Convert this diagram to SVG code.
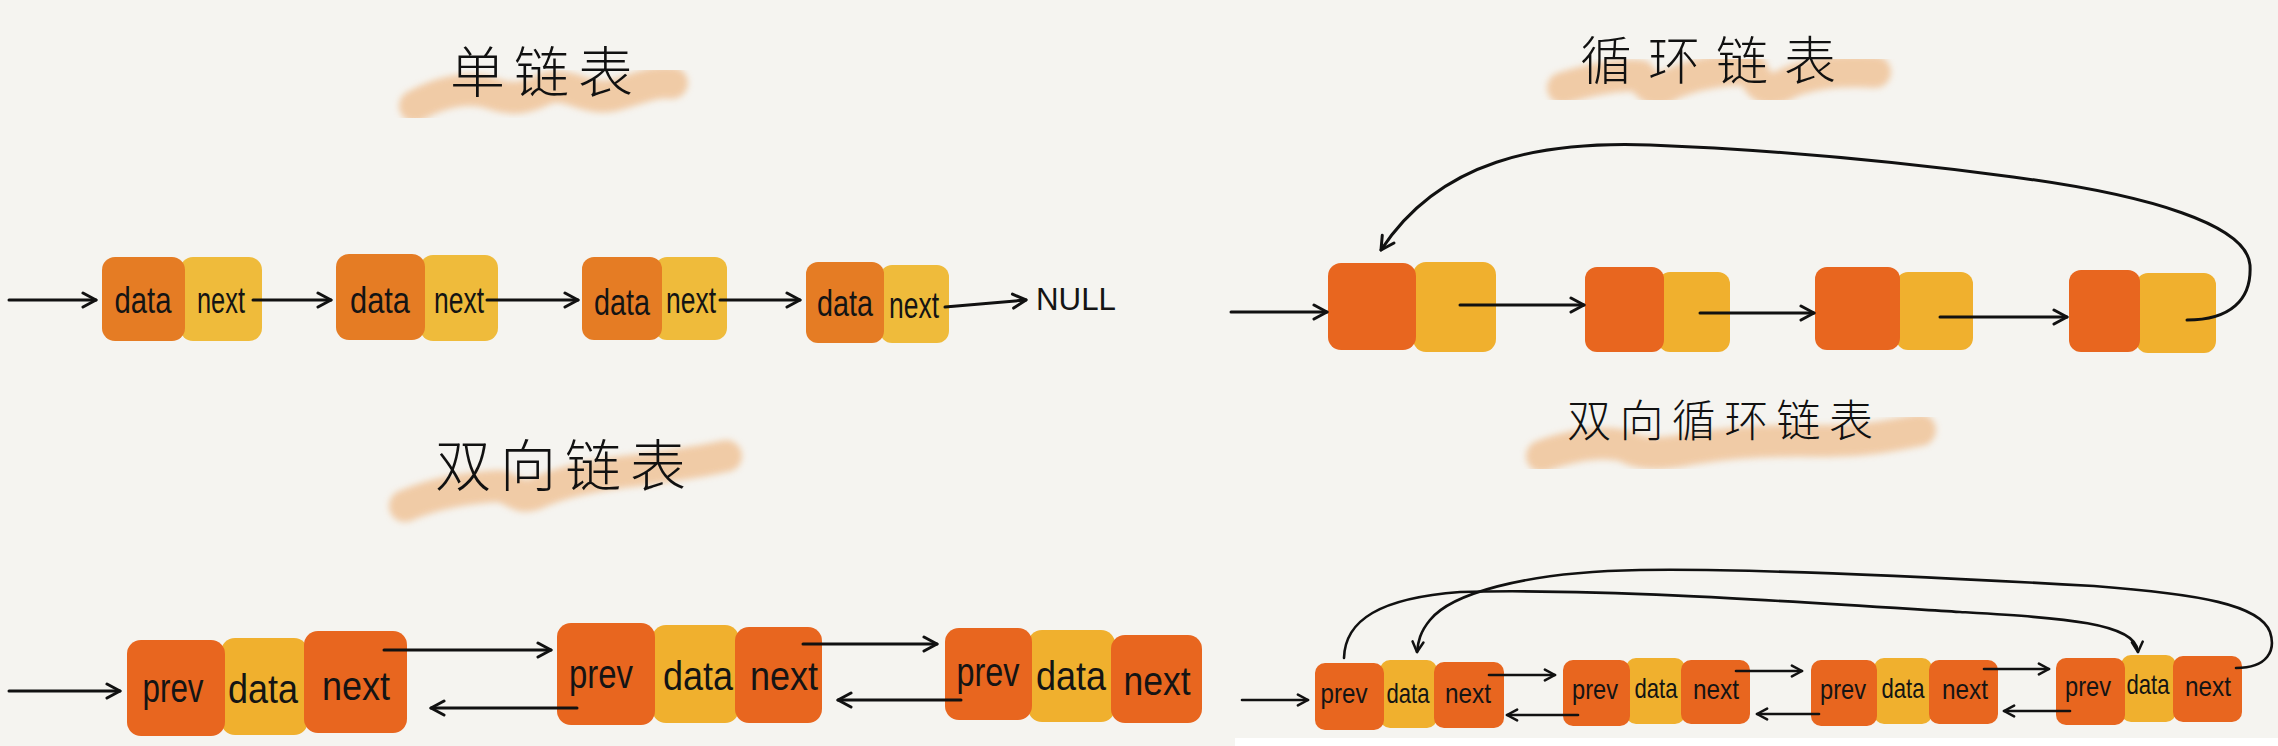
<svg xmlns="http://www.w3.org/2000/svg" width="2278" height="746" viewBox="0 0 2278 746">
<style>
.bg{fill:#f5f4f0}
.o1{fill:#e57c24}
.y1{fill:#efbb3b}
.o2{fill:#e8661f}
.y2{fill:#f0b02e}
.t{font-family:"Liberation Sans",Arial,sans-serif;fill:#141414;text-anchor:middle}
.s1{font-size:36px}
.s2{font-size:40px}
.s3{font-size:28px}
.ttl{font-family:"Noto Sans CJK SC","Noto Sans",sans-serif;fill:#111;font-weight:300}
.brush{fill:none;stroke:#f0c49a;stroke-linecap:round;stroke-linejoin:round;opacity:0.85;filter:url(#blur)}
.ln{fill:none;stroke:#111;stroke-width:3;stroke-linecap:round}
.ln2{fill:none;stroke:#111;stroke-width:2.6;stroke-linecap:round}
</style>
<defs>
<filter id="blur" x="-10%" y="-50%" width="120%" height="200%"><feGaussianBlur stdDeviation="3"/></filter>
<marker id="arr" viewBox="0 0 18 18" refX="16" refY="9" markerWidth="18" markerHeight="18" markerUnits="userSpaceOnUse" orient="auto">
<path d="M3,2 L16,9 L3,16" fill="none" stroke="#111" stroke-width="3" stroke-linecap="round" stroke-linejoin="round"/>
</marker>
<marker id="arrs" viewBox="0 0 18 18" refX="16" refY="9" markerWidth="14" markerHeight="14" markerUnits="userSpaceOnUse" orient="auto">
<path d="M3,2 L16,9 L3,16" fill="none" stroke="#111" stroke-width="3.2" stroke-linecap="round" stroke-linejoin="round"/>
</marker>
</defs>
<rect class="bg" x="0" y="0" width="2278" height="746"/>
<rect x="1235" y="738" width="1043" height="8" fill="#ffffff"/>

<g id="titles">
<path class="brush" stroke-width="32" d="M415,106 C440,92 468,86 490,93 C510,100 522,100 545,89 C565,80 585,100 610,96 C635,91 652,80 672,83"/>
<text class="ttl" x="450" y="92" font-size="55" letter-spacing="9">单链表</text>
<path class="brush" stroke-width="32" d="M1563,88 C1590,80 1620,74 1640,76 C1650,88 1655,94 1668,86 C1690,74 1730,68 1752,70 C1760,90 1770,94 1790,82 C1815,72 1845,70 1875,72"/>
<text class="ttl" x="1580" y="80" font-size="52" letter-spacing="16">循环链表</text>
<path class="brush" stroke-width="32" d="M405,506 C430,495 460,488 500,486 C515,490 520,500 535,494 C560,482 600,474 640,470 C670,466 700,462 726,456"/>
<text class="ttl" x="435" y="486" font-size="56" letter-spacing="9">双向链表</text>
<path class="brush" stroke-width="32" d="M1542,456 C1570,446 1600,440 1625,446 C1640,455 1660,455 1690,449 C1730,442 1780,440 1820,441 C1860,442 1890,436 1920,430"/>
<text class="ttl" x="1567" y="437" font-size="44" letter-spacing="8.4">双向循环链表</text>
</g>

<g id="singly-list">
<g id="s-node1">
<rect class="y1" x="180" y="257" width="82" height="84" rx="13"/>
<rect class="o1" x="102" y="257" width="83" height="84" rx="13"/>
<text class="t s1" x="143" y="313" textLength="57" lengthAdjust="spacingAndGlyphs">data</text>
<text class="t s1" x="221" y="313" textLength="48" lengthAdjust="spacingAndGlyphs">next</text>
</g>
<g id="s-node2">
<rect class="y1" x="420" y="255" width="78" height="86" rx="13"/>
<rect class="o1" x="336" y="254" width="89" height="86" rx="13"/>
<text class="t s1" x="380" y="313" textLength="60" lengthAdjust="spacingAndGlyphs">data</text>
<text class="t s1" x="459" y="313" textLength="50" lengthAdjust="spacingAndGlyphs">next</text>
</g>
<g id="s-node3">
<rect class="y1" x="655" y="257" width="72" height="83" rx="12"/>
<rect class="o1" x="582" y="257" width="80" height="83" rx="12"/>
<text class="t s1" x="622" y="315" textLength="56" lengthAdjust="spacingAndGlyphs">data</text>
<text class="t s1" x="691" y="313" textLength="50" lengthAdjust="spacingAndGlyphs">next</text>
</g>
<g id="s-node4">
<rect class="y1" x="880" y="265" width="69" height="78" rx="12"/>
<rect class="o1" x="806" y="262" width="78" height="81" rx="12"/>
<text class="t s1" x="845" y="316" textLength="56" lengthAdjust="spacingAndGlyphs">data</text>
<text class="t s1" x="914" y="318" textLength="50" lengthAdjust="spacingAndGlyphs">next</text>
</g>
<text id="s-null" class="t" x="1076" y="310" font-size="32" textLength="80" lengthAdjust="spacingAndGlyphs">NULL</text>
</g>

<g id="circular-list">
<g id="c-node1"><rect class="y2" x="1413" y="262" width="83" height="90" rx="13"/><rect class="o2" x="1328" y="263" width="88" height="87" rx="13"/></g>
<g id="c-node2"><rect class="y2" x="1658" y="272" width="72" height="80" rx="12"/><rect class="o2" x="1585" y="267" width="79" height="85" rx="12"/></g>
<g id="c-node3"><rect class="y2" x="1896" y="272" width="77" height="78" rx="12"/><rect class="o2" x="1815" y="267" width="85" height="83" rx="12"/></g>
<g id="c-node4"><rect class="y2" x="2136" y="273" width="80" height="80" rx="12"/><rect class="o2" x="2069" y="270" width="71" height="82" rx="12"/></g>
</g>

<g id="doubly-list">
<g id="d-node1">
<rect class="y2" x="221" y="638" width="87" height="97" rx="14"/>
<rect class="o2" x="127" y="640" width="98" height="96" rx="14"/>
<rect class="o2" x="304" y="631" width="103" height="102" rx="14"/>
<text class="t s2" x="173" y="702" textLength="61" lengthAdjust="spacingAndGlyphs">prev</text>
<text class="t s2" x="263" y="703" textLength="70" lengthAdjust="spacingAndGlyphs">data</text>
<text class="t s2" x="356" y="700" textLength="68" lengthAdjust="spacingAndGlyphs">next</text>
</g>
<g id="d-node2">
<rect class="y2" x="652" y="625" width="87" height="98" rx="14"/>
<rect class="o2" x="557" y="623" width="98" height="102" rx="14"/>
<rect class="o2" x="735" y="627" width="87" height="96" rx="14"/>
<text class="t s2" x="601" y="688" textLength="64" lengthAdjust="spacingAndGlyphs">prev</text>
<text class="t s2" x="698" y="690" textLength="70" lengthAdjust="spacingAndGlyphs">data</text>
<text class="t s2" x="784" y="690" textLength="68" lengthAdjust="spacingAndGlyphs">next</text>
</g>
<g id="d-node3">
<rect class="y2" x="1028" y="630" width="87" height="92" rx="14"/>
<rect class="o2" x="945" y="628" width="87" height="92" rx="14"/>
<rect class="o2" x="1111" y="635" width="91" height="88" rx="14"/>
<text class="t s2" x="988" y="686" textLength="63" lengthAdjust="spacingAndGlyphs">prev</text>
<text class="t s2" x="1071" y="690" textLength="70" lengthAdjust="spacingAndGlyphs">data</text>
<text class="t s2" x="1157" y="695" textLength="67" lengthAdjust="spacingAndGlyphs">next</text>
</g>
</g>

<g id="doubly-circular-list">
<g id="dc-node1">
<rect class="y2" x="1380" y="660" width="57" height="68" rx="10"/>
<rect class="o2" x="1315" y="663" width="69" height="67" rx="10"/>
<rect class="o2" x="1434" y="662" width="70" height="66" rx="10"/>
<text class="t s3" x="1344" y="703" textLength="47" lengthAdjust="spacingAndGlyphs">prev</text>
<text class="t s3" x="1408" y="703" textLength="43" lengthAdjust="spacingAndGlyphs">data</text>
<text class="t s3" x="1468" y="703" textLength="46" lengthAdjust="spacingAndGlyphs">next</text>
</g>
<g id="dc-node2">
<rect class="y2" x="1626" y="658" width="59" height="66" rx="10"/>
<rect class="o2" x="1563" y="660" width="67" height="66" rx="10"/>
<rect class="o2" x="1681" y="660" width="69" height="64" rx="10"/>
<text class="t s3" x="1595" y="699" textLength="46" lengthAdjust="spacingAndGlyphs">prev</text>
<text class="t s3" x="1656" y="698" textLength="43" lengthAdjust="spacingAndGlyphs">data</text>
<text class="t s3" x="1716" y="699" textLength="46" lengthAdjust="spacingAndGlyphs">next</text>
</g>
<g id="dc-node3">
<rect class="y2" x="1874" y="658" width="58" height="66" rx="10"/>
<rect class="o2" x="1811" y="660" width="66" height="66" rx="10"/>
<rect class="o2" x="1929" y="660" width="69" height="64" rx="10"/>
<text class="t s3" x="1843" y="699" textLength="46" lengthAdjust="spacingAndGlyphs">prev</text>
<text class="t s3" x="1903" y="698" textLength="43" lengthAdjust="spacingAndGlyphs">data</text>
<text class="t s3" x="1965" y="699" textLength="46" lengthAdjust="spacingAndGlyphs">next</text>
</g>
<g id="dc-node4">
<rect class="y2" x="2121" y="655" width="55" height="67" rx="10"/>
<rect class="o2" x="2056" y="658" width="69" height="67" rx="10"/>
<rect class="o2" x="2173" y="656" width="69" height="66" rx="10"/>
<text class="t s3" x="2088" y="696" textLength="46" lengthAdjust="spacingAndGlyphs">prev</text>
<text class="t s3" x="2148" y="694" textLength="43" lengthAdjust="spacingAndGlyphs">data</text>
<text class="t s3" x="2208" y="696" textLength="46" lengthAdjust="spacingAndGlyphs">next</text>
</g>
</g>

<g id="connectors">
<line class="ln" x1="9" y1="300" x2="96" y2="300" marker-end="url(#arr)"/>
<line class="ln" x1="253" y1="300" x2="331" y2="300" marker-end="url(#arr)"/>
<line class="ln" x1="487" y1="300" x2="578" y2="300" marker-end="url(#arr)"/>
<line class="ln" x1="720" y1="300" x2="800" y2="300" marker-end="url(#arr)"/>
<line class="ln" x1="945" y1="307" x2="1026" y2="300" marker-end="url(#arr)"/>

<line class="ln" x1="1231" y1="312" x2="1327" y2="312" marker-end="url(#arr)"/>
<line class="ln" x1="1460" y1="305" x2="1584" y2="305" marker-end="url(#arr)"/>
<line class="ln" x1="1700" y1="313" x2="1814" y2="313" marker-end="url(#arr)"/>
<line class="ln" x1="1940" y1="317" x2="2067" y2="317" marker-end="url(#arr)"/>
<path class="ln" d="M2187,320 C2230,320 2252,300 2250,265 C2247,225 2150,195 2013,177 C1900,162 1780,150 1650,145 C1540,141 1440,160 1381,250" marker-end="url(#arr)"/>

<line class="ln" x1="9" y1="691" x2="120" y2="691" marker-end="url(#arr)"/>
<line class="ln" x1="384" y1="650" x2="551" y2="650" marker-end="url(#arr)"/>
<line class="ln" x1="577" y1="708" x2="431" y2="708" marker-end="url(#arr)"/>
<line class="ln" x1="803" y1="644" x2="937" y2="644" marker-end="url(#arr)"/>
<line class="ln" x1="961" y1="700" x2="838" y2="700" marker-end="url(#arr)"/>

<line class="ln2" x1="1242" y1="700" x2="1308" y2="700" marker-end="url(#arrs)"/>
<line class="ln2" x1="1489" y1="675" x2="1555" y2="675" marker-end="url(#arrs)"/>
<line class="ln2" x1="1578" y1="715" x2="1507" y2="715" marker-end="url(#arrs)"/>
<line class="ln2" x1="1736" y1="671" x2="1802" y2="671" marker-end="url(#arrs)"/>
<line class="ln2" x1="1819" y1="714" x2="1757" y2="714" marker-end="url(#arrs)"/>
<line class="ln2" x1="1984" y1="669" x2="2049" y2="669" marker-end="url(#arrs)"/>
<line class="ln2" x1="2070" y1="711" x2="2004" y2="711" marker-end="url(#arrs)"/>
<path class="ln2" d="M1344,658 C1345,620 1380,598 1460,592 C1600,588 1800,602 1960,612 C2060,618 2136,622 2138,652" marker-end="url(#arrs)"/>
<path class="ln2" d="M2236,668 C2268,668 2276,650 2270,632 C2260,605 2200,594 2094,586 C1950,578 1750,568 1640,570 C1520,572 1450,595 1430,620 C1420,632 1418,642 1417,652" marker-end="url(#arrs)"/>
</g>
</svg>
